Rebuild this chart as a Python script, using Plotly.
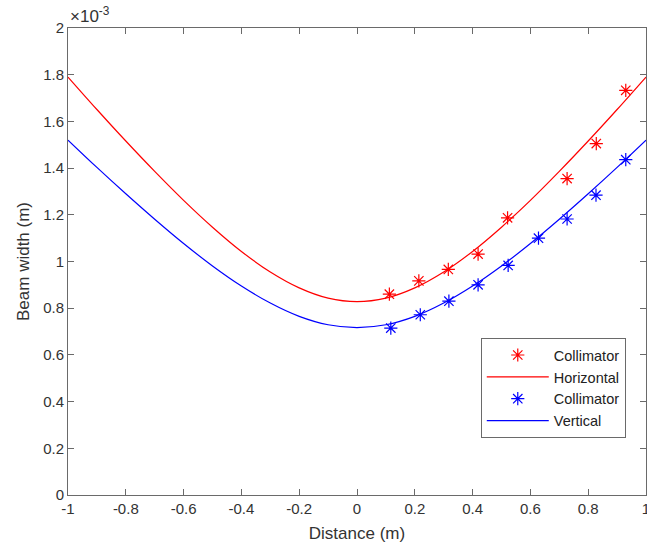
import plotly.graph_objects as go

# Distance (m)
x_fit = [-1.0, -0.9, -0.8, -0.7, -0.6, -0.5, -0.4, -0.3, -0.2, -0.1, 0.0,
         0.1, 0.2, 0.3, 0.4, 0.5, 0.6, 0.7, 0.8, 0.9, 1.0]
# Beam width (x 10^-3 m)
horizontal_fit = [1.790, 1.651, 1.516, 1.386, 1.262, 1.147, 1.043, 0.955, 0.887, 0.843, 0.828,
                  0.843, 0.887, 0.955, 1.043, 1.147, 1.262, 1.386, 1.516, 1.651, 1.790]
vertical_fit = [1.520, 1.403, 1.290, 1.181, 1.077, 0.981, 0.895, 0.822, 0.765, 0.729, 0.717,
                0.729, 0.765, 0.822, 0.895, 0.981, 1.077, 1.181, 1.290, 1.403, 1.520]

# Collimator measurements
x_h_meas = [0.112, 0.214, 0.316, 0.419, 0.521, 0.727, 0.828, 0.930]
h_meas = [0.860, 0.917, 0.966, 1.032, 1.187, 1.355, 1.505, 1.733]
x_v_meas = [0.117, 0.219, 0.318, 0.419, 0.523, 0.628, 0.727, 0.827, 0.930]
v_meas = [0.715, 0.772, 0.830, 0.900, 0.983, 1.100, 1.182, 1.284, 1.436]

x_ticks = [-1, -0.8, -0.6, -0.4, -0.2, 0, 0.2, 0.4, 0.6, 0.8, 1]
x_ticktext = ["-1", "-0.8", "-0.6", "-0.4", "-0.2", "0", "0.2", "0.4", "0.6", "0.8", "1"]
y_ticks = [0, 0.2, 0.4, 0.6, 0.8, 1.0, 1.2, 1.4, 1.6, 1.8, 2.0]
y_ticktext = ["0", "0.2", "0.4", "0.6", "0.8", "1", "1.2", "1.4", "1.6", "1.8", "2"]

RED = "#ff0000"
BLUE = "#0000ff"
AXC = "#6a6a6a"
TXT = "#333333"
FONT = "Liberation Sans, Arial, sans-serif"

fig = go.Figure()
fig.add_trace(go.Scatter(x=x_h_meas, y=h_meas, mode="markers", name="Collimator",
                         marker=dict(symbol="asterisk-open", size=11, color=RED,
                                     line=dict(color=RED, width=1.2))))
fig.add_trace(go.Scatter(x=x_fit, y=horizontal_fit, mode="lines", name="Horizontal",
                         line=dict(color=RED, width=1.2, shape="spline")))
fig.add_trace(go.Scatter(x=x_v_meas, y=v_meas, mode="markers", name="Collimator",
                         marker=dict(symbol="asterisk-open", size=11, color=BLUE,
                                     line=dict(color=BLUE, width=1.2))))
fig.add_trace(go.Scatter(x=x_fit, y=vertical_fit, mode="lines", name="Vertical",
                         line=dict(color=BLUE, width=1.2, shape="spline")))

axis_common = dict(showgrid=False, zeroline=False, showline=True, linecolor=AXC, linewidth=1,
                   mirror="ticks", ticks="inside", ticklen=6, tickcolor=AXC, tickwidth=1,
                   ticklabeloverflow="allow",
                   tickfont=dict(family=FONT, size=15, color=TXT))

fig.update_layout(
    width=647, height=546,
    margin=dict(l=68, r=1, t=28, b=51, autoexpand=False),
    paper_bgcolor="white", plot_bgcolor="white",
    font=dict(family=FONT, color=TXT),
    xaxis=dict(range=[-1, 1], tickvals=x_ticks, ticktext=x_ticktext, automargin=False,
               title=dict(text="Distance (m)", font=dict(family=FONT, size=17, color=TXT), standoff=11),
               **axis_common),
    yaxis=dict(range=[0, 2], tickvals=y_ticks, ticktext=y_ticktext, automargin=False,
               title=dict(text="Beam width (m)", font=dict(family=FONT, size=17, color=TXT), standoff=9),
               **axis_common),
    legend=dict(x=0.965, y=0.336, xanchor="right", yanchor="top",
                bgcolor="white", bordercolor=AXC, borderwidth=1,
                font=dict(family=FONT, size=14.5, color="#222222"),
                itemwidth=62, tracegroupgap=0),
    showlegend=True,
)

fig.add_annotation(xref="paper", yref="paper", x=0, y=1, xanchor="left", yanchor="bottom",
                   showarrow=False,
                   text="×10<sup>-3</sup>", font=dict(family=FONT, size=17, color=TXT))

fig.write_html("out.html", config={"displayModeBar": False},
               post_script="document.body.style.margin='0';document.body.style.padding='0';")
